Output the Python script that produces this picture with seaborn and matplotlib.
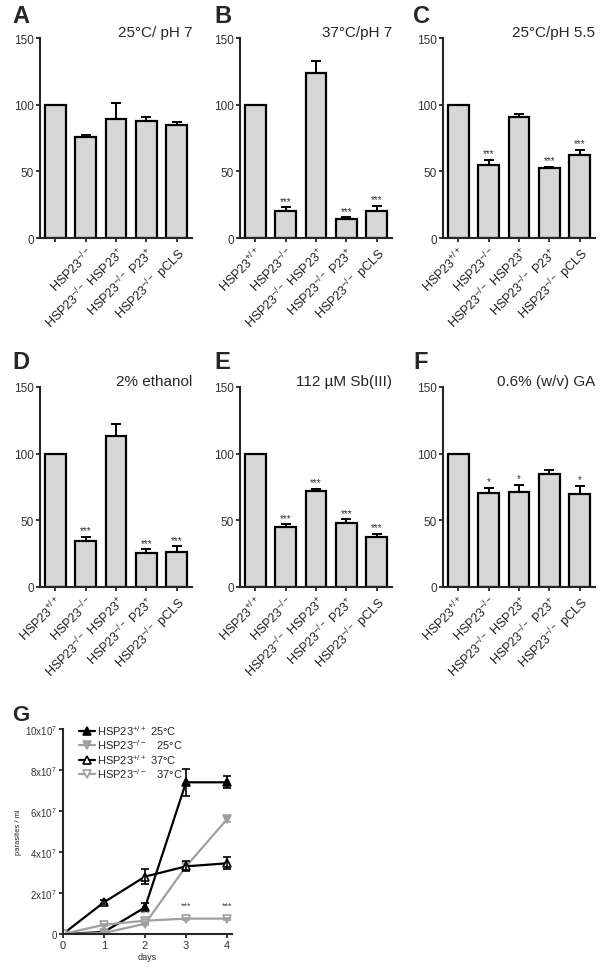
import matplotlib
matplotlib.use("Agg")
import matplotlib.pyplot as plt
import seaborn as sns
import pandas as pd
import numpy as np

sns.set_style("ticks")
plt.rcParams['font.family'] = ['Liberation Sans', 'DejaVu Sans']
plt.rcParams['mathtext.default'] = 'regular'
plt.rcParams['axes.linewidth'] = 1.5
plt.rcParams['xtick.major.width'] = 1.3
plt.rcParams['ytick.major.width'] = 1.3
plt.rcParams['xtick.major.size'] = 3
plt.rcParams['ytick.major.size'] = 3

# --- DATA ---
groups = ["WT", "KO", "KO_HSP23", "KO_P23", "KO_pCLS"]
tick_labels = ["HSP23$^{+/+}$", "HSP23$^{-/-}$", "HSP23$^{-/-}$ HSP23$^{+}$",
               "HSP23$^{-/-}$ P23$^{+}$", "HSP23$^{-/-}$ pCLS"]

panel_letters = ["A", "B", "C", "D", "E", "F"]
panel_titles = ["25°C/ pH 7", "37°C/pH 7", "25°C/pH 5.5",
                "2% ethanol", "112 µM Sb(III)", "0.6% (w/v) GA"]

vals_A = [100, 76, 89, 87.5, 84.5]
err_A = [0, 1, 12, 3.5, 2.5]
sig_A = ["", "", "", "", ""]

vals_B = [100, 20.5, 123.5, 14.5, 20.5]
err_B = [0, 2.5, 9, 1, 3.5]
sig_B = ["", "***", "", "***", "***"]

vals_C = [100, 54.8, 90.5, 52.4, 62.2]
err_C = [0, 3.8, 2.2, 1, 3.8]
sig_C = ["", "***", "", "***", "***"]

vals_D = [100, 34.2, 113.3, 25.8, 26.5]
err_D = [0, 3.3, 8.7, 2.5, 4]
sig_D = ["", "***", "", "***", "***"]

vals_E = [100, 45, 71.8, 48.2, 37.8]
err_E = [0, 2, 2, 2.5, 2]
sig_E = ["", "***", "***", "***", "***"]

vals_F = [100, 70.8, 71.5, 85, 70]
err_F = [0, 3.8, 5, 3, 5.8]
sig_F = ["", "*", "*", "", "*"]

days = [0, 1, 2, 3, 4]
wt25 = [0, 0.1e7, 1.3e7, 7.4e7, 7.4e7]
wt25_err = [0, 0.05e7, 0.2e7, 0.65e7, 0.3e7]
ko25 = [0, 0.05e7, 0.5e7, 3.3e7, 5.6e7]
ko25_err = [0, 0.03e7, 0.05e7, 0.15e7, 0.15e7]
wt37 = [0, 1.55e7, 2.8e7, 3.3e7, 3.45e7]
wt37_err = [0, 0.1e7, 0.35e7, 0.25e7, 0.3e7]
ko37 = [0, 0.45e7, 0.65e7, 0.75e7, 0.75e7]
ko37_err = [0, 0.05e7, 0.1e7, 0.05e7, 0.05e7]
g_sig_days = [2, 3, 4]
g_sig_y = [0.85e7, 1.2e7, 1.2e7]
g_yticks = [0, 2e7, 4e7, 6e7, 8e7, 10e7]
g_yticklabels = ["0", "2x10$^7$", "4x10$^7$", "6x10$^7$", "8x10$^7$", "10x10$^7$"]

bar_data = [(vals_A, err_A, sig_A), (vals_B, err_B, sig_B), (vals_C, err_C, sig_C),
            (vals_D, err_D, sig_D), (vals_E, err_E, sig_E), (vals_F, err_F, sig_F)]

W, H = 603, 970
fig = plt.figure(figsize=(W / 100, H / 100), dpi=100)

# axes positions in pixels
lefts = [40, 240, 443]
tops = [39, 388]
letter_x = [12, 214, 413]
letter_y = [23, 369]

for i, (vals, errs, sigs) in enumerate(bar_data):
    r, c = divmod(i, 3)
    l, t = lefts[c], tops[r]
    ax = fig.add_axes([l / W, 1 - (t + 200) / H, 152 / W, 200 / H])
    df = pd.DataFrame({"group": groups, "value": vals})
    sns.barplot(data=df, x="group", y="value", color="#d7d7d7", saturation=1,
                edgecolor="black", linewidth=1.6, width=0.68, ax=ax)
    x = np.arange(len(vals))
    ax.errorbar(x, vals, yerr=[np.zeros(len(errs)), errs], fmt="none", ecolor="black",
                elinewidth=1.4, capsize=3.5, capthick=1.4, zorder=1)
    for xi, v, e, s in zip(x, vals, errs, sigs):
        if s:
            ax.text(xi, v + e + 1.2, s, ha="center", va="bottom", fontsize=7, color="#333333")
    ax.set_xlim(-0.5, 4.5)
    ax.set_ylim(0, 150)
    ax.set_yticks([0, 50, 100, 150])
    ax.tick_params(axis="y", labelsize=8.5, labelcolor="#333333", pad=1.5)
    ax.tick_params(axis="x", labelsize=9, labelcolor="#222222", pad=1)
    labels = list(tick_labels)
    if i == 0:
        labels[0] = ""
    ax.set_xticks(x)
    ax.set_xticklabels(labels, rotation=45, ha="right", rotation_mode="anchor")
    ax.set_xlabel("")
    ax.set_ylabel("")
    sns.despine(ax=ax)
    ax.text(1.0, 1.03, panel_titles[i], transform=ax.transAxes, ha="right", va="center",
            fontsize=11)
    fig.text(letter_x[c] / W, 1 - letter_y[r] / H, panel_letters[i], fontsize=17,
             fontweight="bold", ha="left", va="baseline")

# --- PANEL G ---
axg = fig.add_axes([63 / W, 1 - 935 / H, 169 / W, 205 / H])
grey = "#a0a0a0"
series = [
    (wt25, wt25_err, "black", "^", "black", "HSP23$^{+/+}$ 25°C"),
    (ko25, ko25_err, grey, "v", grey, "HSP23$^{-/-}$   25°C"),
    (wt37, wt37_err, "black", "^", "white", "HSP23$^{+/+}$ 37°C"),
    (ko37, ko37_err, grey, "v", "white", "HSP23$^{-/-}$   37°C"),
]
for ys, es, col, mk, face, lab in series:
    sns.lineplot(x=days, y=ys, color=col, linewidth=1.6, marker=mk, markersize=5.5,
                 markerfacecolor=face, markeredgecolor=col, markeredgewidth=1.2,
                 label=lab, ax=axg)
    axg.errorbar(days, ys, yerr=es, fmt="none", ecolor=col, elinewidth=1.2,
                 capsize=3, capthick=1.2)
for d, y in zip(g_sig_days, g_sig_y):
    axg.text(d, y, "***", ha="center", va="bottom", fontsize=6.5, color="#444444")
axg.set_xlim(0, 4.12)
axg.set_ylim(0, 10e7)
axg.set_xticks(days)
axg.set_yticks(g_yticks)
axg.set_yticklabels(g_yticklabels)
axg.tick_params(axis="x", labelsize=8, labelcolor="#333333", pad=1.5)
axg.tick_params(axis="y", labelsize=7, labelcolor="#333333", pad=1.5)
axg.set_xlabel("days", fontsize=6.5, labelpad=1)
axg.set_ylabel("parasites / ml", fontsize=5.5, labelpad=2)
sns.despine(ax=axg)
axg.legend(loc="upper left", bbox_to_anchor=(0.07, 1.05), frameon=False, fontsize=8,
           handlelength=1.4, handletextpad=0.2, labelspacing=0.05, borderaxespad=0)
fig.text(12 / W, 1 - 721 / H, "G", fontsize=16, fontweight="bold", ha="left", va="baseline")

fig.savefig("out.png", dpi=100)
